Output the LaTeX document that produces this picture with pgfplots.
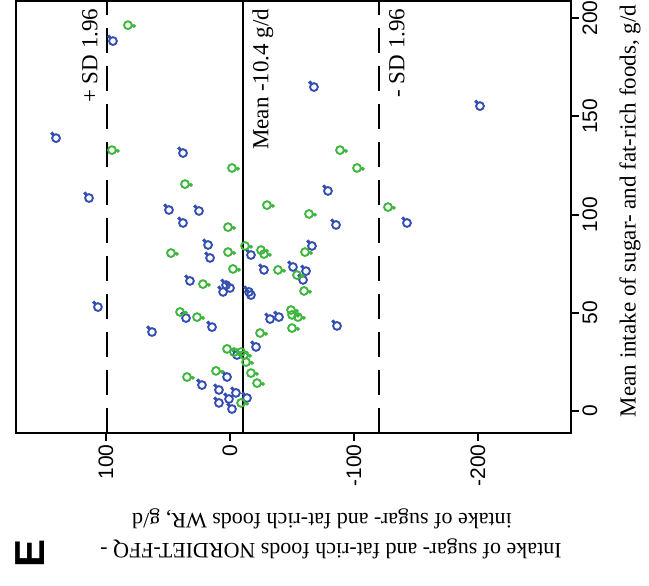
\documentclass[border=0pt]{standalone}
\usepackage{fontspec}
\setmainfont{Liberation Serif}
\newfontfamily\ticksf{Liberation Sans}
\usepackage{pgfplots}
\pgfplotsset{compat=1.18}
\usepackage{pgfplotstable}

\definecolor{ptblue}{RGB}{52,78,178}
\definecolor{ptgreen}{RGB}{62,182,62}

% open ring with a short tail, two orientations
\pgfdeclareplotmark{ringB}{%
  \pgfsetroundcap
  \pgfpathcircle{\pgfpointorigin}{3.9pt}\pgfusepathqstroke
  \pgfpathmoveto{\pgfpointpolar{125}{3.9pt}}%
  \pgfpathlineto{\pgfpointpolar{128}{5.6pt}}\pgfusepathqstroke
  \pgfpathcircle{\pgfpointpolar{130}{5.8pt}}{0.8pt}\pgfusepathqfillstroke
}
\pgfdeclareplotmark{ringG}{%
  \pgfsetroundcap
  \pgfpathcircle{\pgfpointorigin}{3.9pt}\pgfusepathqstroke
  \pgfpathmoveto{\pgfpointpolar{-8}{3.9pt}}%
  \pgfpathlineto{\pgfpointpolar{-8}{5.8pt}}\pgfusepathqstroke
  \pgfpathcircle{\pgfpointpolar{-8}{6.0pt}}{0.8pt}\pgfusepathqfillstroke
}

% difference (NORDIET-FFQ minus WR), mean of both methods; g/d
\pgfplotstableread{
d m
94.4 188.3
-67.7 164.9
-201.6 155.2
140.3 138.9
37.9 131.3
-79.0 112.0
113.7 108.4
49.2 102.3
25.0 101.8
-85.5 94.7
-142.7 95.7
37.9 95.7
17.7 84.5
-66.1 84.0
16.1 77.9
-16.9 79.4
-27.4 71.8
-50.8 73.3
-61.3 71.2
-58.9 66.7
32.3 66.2
3.2 64.1
0.0 62.6
5.6 60.6
-15.3 60.6
-16.9 59.0
106.5 52.9
35.5 47.3
-32.3 46.8
-39.5 47.8
-86.3 43.3
14.5 42.7
62.9 40.2
-21.0 32.6
-5.6 28.5
2.4 17.3
22.6 13.2
8.9 10.7
-4.8 9.2
0.8 6.1
8.9 4.1
-13.7 6.6
-1.6 1.0
}\blueset

\pgfplotstableread{
d m
82.3 196.4
95.2 132.8
-1.6 123.7
-88.7 132.8
-102.4 123.7
36.3 115.5
-29.8 104.8
-127.4 103.8
-63.7 100.3
1.6 93.6
-12.1 84.0
-25.0 81.9
-27.4 79.9
47.6 80.4
1.6 80.9
-60.5 80.9
-2.4 72.3
-38.7 71.8
-54.0 69.2
21.8 64.6
-59.7 61.1
40.3 50.4
26.6 47.8
-49.2 51.4
-50.0 48.9
-54.8 47.8
-50.0 42.2
-24.2 39.7
2.4 31.6
-3.2 30.0
-8.9 30.0
-11.3 28.5
-12.9 24.9
11.3 20.4
-16.9 19.3
34.7 17.3
-21.8 14.2
-8.9 4.1
}\greenset

\begin{document}
\begin{tikzpicture}
\path[use as bounding box] (-16pt,-153pt) rectangle (633pt,433pt);
\begin{axis}[
  scale only axis,
  width=555pt, height=432pt,
  x dir=reverse,
  xmin=-275, xmax=172.6,
  ymin=-11.2, ymax=208.7,
  clip=false,
  axis line style={line width=2.2pt},
  tick align=outside,
  major tick length=8pt,
  tick style={line width=2pt, black},
  xtick pos=left, xticklabel pos=left,
  ytick pos=right, yticklabel pos=right,
  xtick={-200,-100,0,100},
  xticklabels={-200,-100,0,100},
  ytick={0,50,100,150,200},
  yticklabels={0,50,100,150,200},
  xticklabel style={font=\ticksf\fontsize{21}{24}\selectfont, rotate=90, anchor=east},
  yticklabel style={font=\ticksf\fontsize{21}{24}\selectfont, rotate=90, anchor=north},
]
% limits of agreement and mean difference
\addplot[black, line width=2pt, dash pattern=on 25pt off 13pt] coordinates {(99.2,-11.2) (99.2,208.7)};
\addplot[black, line width=2pt, dash pattern=on 25pt off 13pt] coordinates {(-120.0,-11.2) (-120.0,208.7)};
\addplot[black, line width=2.2pt] coordinates {(-10.4,-11.2) (-10.4,208.7)};

\addplot[only marks, mark=ringB, mark options={draw=ptblue, fill=ptblue, line width=1.9pt}] table[x=d, y=m] {\blueset};
\addplot[only marks, mark=ringG, mark options={draw=ptgreen, fill=ptgreen, line width=1.9pt}] table[x=d, y=m] {\greenset};

\node[rotate=90, anchor=east, font=\fontsize{23}{27}\selectfont] at (axis cs:112.9,206.6) {+ SD 1.96};
\node[rotate=90, anchor=east, font=\fontsize{23}{27}\selectfont] at (axis cs:-26.6,206.6) {Mean -10.4 g/d};
\node[rotate=90, anchor=east, font=\fontsize{23}{27}\selectfont] at (axis cs:-134.7,206.6) {- SD 1.96};
\end{axis}

% difference axis title, set upside down in two lines
\node[rotate=180, inner sep=0pt, font=\fontsize{22}{26}\selectfont] at (306pt,-86pt)
  {intake of sugar- and fat-rich foods WR, g/d};
\node[rotate=180, inner sep=0pt, font=\fontsize{22}{26}\selectfont] at (315pt,-116pt)
  {Intake of sugar- and fat-rich foods NORDIET-FFQ -};
\node[rotate=90, font=\fontsize{23}{27}\selectfont] at (614pt,222pt)
  {Mean intake of sugar- and fat-rich foods, g/d};
\node[rotate=90, inner sep=0pt, font=\ticksf\bfseries\fontsize{42}{46}\selectfont] at (14pt,-120pt) {E};
\end{tikzpicture}
\end{document}
